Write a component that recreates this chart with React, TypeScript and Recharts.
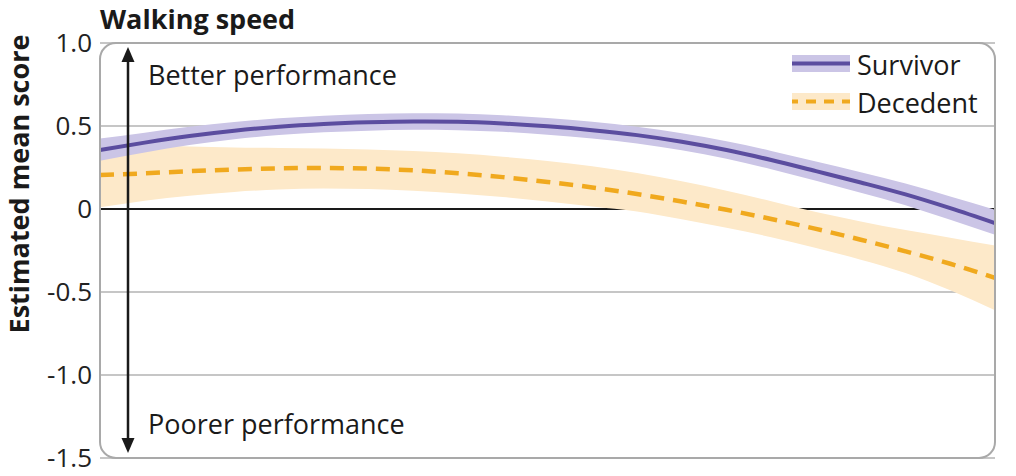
import {
  ComposedChart,
  Area,
  Line,
  XAxis,
  YAxis,
  CartesianGrid,
  ReferenceLine,
} from 'recharts';

// Time points (x position, arbitrary units, ticks unlabelled in source)
const TIMES = [0, 0.25, 0.5, 0.75, 1, 1.25, 1.5, 1.75, 2, 2.25, 2.5, 2.75, 3, 3.25, 3.5, 3.75, 4, 4.25, 4.5, 4.75, 5];

const SURVIVOR = [0.355, 0.4, 0.44, 0.472, 0.496, 0.512, 0.522, 0.527, 0.525, 0.515, 0.498, 0.475, 0.445, 0.405, 0.355, 0.295, 0.228, 0.16, 0.088, 0.005, -0.085];
const SURVIVOR_LO = [0.29, 0.34, 0.385, 0.42, 0.446, 0.462, 0.472, 0.477, 0.475, 0.465, 0.448, 0.425, 0.395, 0.354, 0.302, 0.24, 0.17, 0.098, 0.023, -0.065, -0.155];
const SURVIVOR_HI = [0.425, 0.46, 0.495, 0.524, 0.546, 0.562, 0.572, 0.577, 0.575, 0.565, 0.548, 0.525, 0.495, 0.456, 0.408, 0.35, 0.286, 0.222, 0.153, 0.075, -0.005];

const DECEDENT = [0.205, 0.215, 0.228, 0.238, 0.245, 0.247, 0.243, 0.233, 0.215, 0.192, 0.163, 0.13, 0.09, 0.045, -0.005, -0.06, -0.12, -0.185, -0.255, -0.33, -0.415];
const DECEDENT_LO = [0.01, 0.05, 0.08, 0.103, 0.117, 0.123, 0.12, 0.11, 0.094, 0.072, 0.045, 0.015, -0.015, -0.062, -0.113, -0.17, -0.235, -0.305, -0.385, -0.49, -0.61];
const DECEDENT_HI = [0.4, 0.387, 0.377, 0.371, 0.368, 0.365, 0.359, 0.35, 0.336, 0.315, 0.289, 0.257, 0.217, 0.167, 0.11, 0.047, -0.018, -0.075, -0.127, -0.173, -0.22];

const Y_TICKS = [-1.5, -1, -0.5, 0, 0.5, 1];
const X_TICKS = [1, 2, 3, 4];

const FONT = '"Open Sans", sans-serif';
const PURPLE = '#5b4d9f';
const PURPLE_BAND = '#cbc5e6';
const ORANGE = '#f0a91e';
const ORANGE_BAND = '#fde9c9';
const GRID = '#b3b3b3';

const data = TIMES.map((t, i) => ({
  t,
  survivor: SURVIVOR[i],
  survivorBand: [SURVIVOR_LO[i], SURVIVOR_HI[i]],
  decedent: DECEDENT[i],
  decedentBand: [DECEDENT_LO[i], DECEDENT_HI[i]],
}));

const formatY = (v: number) => (v === 0 ? '0' : v.toFixed(1));

export default function App() {
  return (
    <div style={{ position: 'absolute', left: 0, top: 0, width: 1016, height: 476, background: '#fff' }}>
      <ComposedChart
        width={1016}
        height={476}
        data={data}
        margin={{ top: 43, right: 21, bottom: 18, left: 0 }}
      >
        <CartesianGrid vertical={false} stroke={GRID} strokeWidth={1.5} />
        <XAxis
          dataKey="t"
          type="number"
          domain={[0, 5]}
          ticks={X_TICKS}
          height={0}
          axisLine={false}
          tick={false}
          tickSize={-10}
          tickLine={{ stroke: GRID, strokeWidth: 2 }}
        />
        <YAxis
          type="number"
          domain={[-1.5, 1]}
          ticks={Y_TICKS}
          width={100}
          axisLine={false}
          tickLine={false}
          tickSize={0}
          tickMargin={8}
          tickFormatter={formatY}
          tick={{ fill: '#222', fontSize: 26, fontFamily: FONT }}
        />
        <ReferenceLine y={0} stroke="#1a1a1a" strokeWidth={2} zIndex={-50} />
        <Area
          type="monotone"
          dataKey="decedentBand"
          stroke="none"
          fill={ORANGE_BAND}
          fillOpacity={1}
          isAnimationActive={false}
        />
        <Area
          type="monotone"
          dataKey="survivorBand"
          stroke="none"
          fill={PURPLE_BAND}
          fillOpacity={1}
          isAnimationActive={false}
        />
        <Line
          type="monotone"
          dataKey="decedent"
          stroke={ORANGE}
          strokeWidth={4.5}
          strokeDasharray="14 9"
          dot={false}
          activeDot={false}
          isAnimationActive={false}
        />
        <Line
          type="monotone"
          dataKey="survivor"
          stroke={PURPLE}
          strokeWidth={4}
          dot={false}
          activeDot={false}
          isAnimationActive={false}
        />
      </ComposedChart>

      {/* titles, annotation arrow, frame and legend */}
      <svg
        width={1016}
        height={476}
        style={{ position: 'absolute', left: 0, top: 0, pointerEvents: 'none' }}
        fontFamily={FONT}
      >
        <rect x={100} y={43} width={895} height={415} rx={16} fill="none" stroke="#a9a9a9" strokeWidth={2} />

        <text x={100} y={29} fontSize={27} fontWeight={700} fill="#1a1a1a">Walking speed</text>
        <text
          x={29}
          y={184}
          fontSize={27}
          fontWeight={700}
          fill="#1a1a1a"
          textAnchor="middle"
          transform="rotate(-90 29 184)"
        >
          Estimated mean score
        </text>

        <line x1={128} x2={128} y1={60} y2={440} stroke="#1a1a1a" strokeWidth={2.5} />
        <polygon points="128,47 121.5,62 134.5,62" fill="#1a1a1a" />
        <polygon points="128,453 121.5,438 134.5,438" fill="#1a1a1a" />
        <text x={148} y={85} fontSize={27} fill="#1a1a1a">Better performance</text>
        <text x={148} y={434} fontSize={27} fill="#1a1a1a">Poorer performance</text>

        <rect x={792} y={55} width={58} height={17} fill={PURPLE_BAND} />
        <line x1={792} x2={850} y1={63.5} y2={63.5} stroke={PURPLE} strokeWidth={4} />
        <text x={857} y={75} fontSize={27} fill="#1a1a1a">Survivor</text>
        <rect x={792} y={93} width={58} height={17} fill={ORANGE_BAND} />
        <line x1={792} x2={850} y1={101.5} y2={101.5} stroke={ORANGE} strokeWidth={4} strokeDasharray="10 8" strokeDashoffset={4} />
        <text x={857} y={113} fontSize={27} fill="#1a1a1a">Decedent</text>
      </svg>
    </div>
  );
}
